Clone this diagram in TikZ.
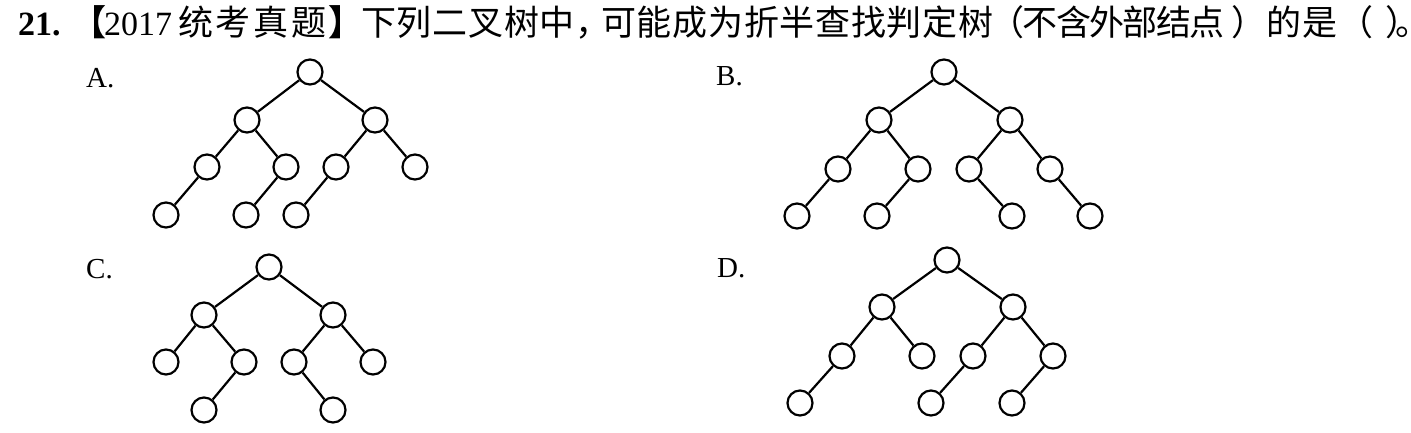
\documentclass[tikz,border=0pt]{standalone}
\usepackage{fontspec}
\setmainfont{Liberation Serif}
\newfontfamily\cjk{Noto Sans CJK SC}
\newfontfamily\cjkw[LetterSpace=2]{Noto Sans CJK SC}
\newfontfamily\cjkww[LetterSpace=8]{Noto Sans CJK SC}
\newfontfamily\cjkn[LetterSpace=-4.5]{Noto Sans CJK SC}
\begin{document}
\begin{tikzpicture}[x=1pt,y=-1pt,
  nd/.style={circle,draw,line width=2.2pt,minimum size=25pt,inner sep=0pt},
  ed/.style={line width=2.2pt},
  lat/.style={anchor=base west,inner sep=0pt,font=\fontsize{34}{40}\selectfont},
  zh/.style={anchor=base west,inner sep=0pt,font=\fontsize{35}{40}\selectfont\cjkw},
  opt/.style={anchor=base west,inner sep=0pt,font=\fontsize{29}{34}\selectfont}]
\useasboundingbox (0,0) rectangle (1411,432);
% title
\node[lat,font=\fontsize{34}{40}\selectfont\bfseries] (t1) at (18,35) {21.};
\node[zh,font=\fontsize{35}{40}\selectfont\cjk\bfseries] (t2) at (71,35) {【};
\node[lat] (t3) at (104,35) {2017};
\node[zh,font=\fontsize{35}{40}\selectfont\cjkww] (t4) at (178,35) {统考真题};
\node[zh,font=\fontsize{35}{40}\selectfont\cjk\bfseries] (t5) at (328,35) {】};
\node[zh] (t6) at (361,35) {下列二叉树中，};
\node[zh] (t7) at (601,35) {可能成为折半查找判定树};
\node[zh,font=\fontsize{35}{40}\selectfont\cjkn] (t8) at (989,35) {（不含外部结点};
\node[zh] (t9) at (1231,35) {）的是（\hspace{12pt}）\kern-25pt 。\kern-30pt};
% option labels
\node[opt] (la) at (86,87) {A.};
\node[opt] (lb) at (716,85) {B.};
\node[opt] (lc) at (86,278) {C.};
\node[opt] (ld) at (717,277) {D.};
% tree A
\node[nd] (a0) at (310,72) {};
\node[nd] (a1) at (247,120) {};
\node[nd] (a2) at (375,120) {};
\node[nd] (a3) at (207,167) {};
\node[nd] (a4) at (286,167) {};
\node[nd] (a5) at (336,167) {};
\node[nd] (a6) at (415,167) {};
\node[nd] (a7) at (166,215) {};
\node[nd] (a8) at (246,215) {};
\node[nd] (a9) at (296,215) {};
\draw[ed] (a0)--(a1) (a0)--(a2) (a1)--(a3) (a1)--(a4) (a2)--(a5) (a2)--(a6) (a3)--(a7) (a4)--(a8) (a5)--(a9);
% tree B
\node[nd] (b0) at (944,72) {};
\node[nd] (b1) at (879,120) {};
\node[nd] (b2) at (1010,120) {};
\node[nd] (b3) at (838,169) {};
\node[nd] (b4) at (918,169) {};
\node[nd] (b5) at (969,169) {};
\node[nd] (b6) at (1050,169) {};
\node[nd] (b7) at (797,216) {};
\node[nd] (b8) at (877,216) {};
\node[nd] (b9) at (1012,216) {};
\node[nd] (b10) at (1090,216) {};
\draw[ed] (b0)--(b1) (b0)--(b2) (b1)--(b3) (b1)--(b4) (b2)--(b5) (b2)--(b6) (b3)--(b7) (b4)--(b8) (b5)--(b9) (b6)--(b10);
% tree C
\node[nd] (c0) at (269,267) {};
\node[nd] (c1) at (204,315) {};
\node[nd] (c2) at (333,315) {};
\node[nd] (c3) at (166,362) {};
\node[nd] (c4) at (244,362) {};
\node[nd] (c5) at (294,362) {};
\node[nd] (c6) at (373,362) {};
\node[nd] (c7) at (204,410) {};
\node[nd] (c8) at (333,410) {};
\draw[ed] (c0)--(c1) (c0)--(c2) (c1)--(c3) (c1)--(c4) (c2)--(c5) (c2)--(c6) (c4)--(c7) (c5)--(c8);
% tree D
\node[nd] (d0) at (947,260) {};
\node[nd] (d1) at (882,307) {};
\node[nd] (d2) at (1013,307) {};
\node[nd] (d3) at (842,356) {};
\node[nd] (d4) at (922,356) {};
\node[nd] (d5) at (973,356) {};
\node[nd] (d6) at (1053,356) {};
\node[nd] (d7) at (800,403) {};
\node[nd] (d8) at (931,403) {};
\node[nd] (d9) at (1012,403) {};
\draw[ed] (d0)--(d1) (d0)--(d2) (d1)--(d3) (d1)--(d4) (d2)--(d5) (d2)--(d6) (d3)--(d7) (d5)--(d8) (d6)--(d9);
\end{tikzpicture}
\end{document}
